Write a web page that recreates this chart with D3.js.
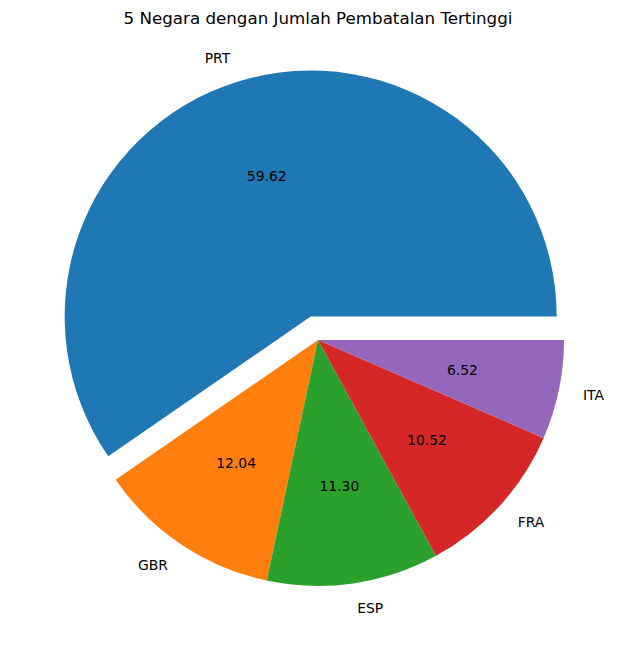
<!DOCTYPE html>
<html>
<head>
<meta charset="utf-8">
<script src="https://cdn.jsdelivr.net/npm/d3@7"></script>
<style>
  body { margin: 0; background: #fff; }
  text { font-family: "DejaVu Sans", sans-serif; }
</style>
</head>
<body>
<script>
var countries = ["PRT", "GBR", "ESP", "FRA", "ITA"],
    shares = [59.62, 12.04, 11.30, 10.52, 6.52],
    explode = [0.1, 0, 0, 0, 0],
    colors = ["#1f77b4", "#ff7f0e", "#2ca02c", "#d62728", "#9467bd"];

var w = 636, h = 658,
    cx = 318, cy = 340,
    r = 246;

var svg = d3.select("body").append("svg")
    .attr("width", w)
    .attr("height", h);

svg.append("text")
    .attr("x", w / 2)
    .attr("y", 18)
    .attr("text-anchor", "middle")
    .attr("dominant-baseline", "central")
    .style("font-size", "16.7px")
    .text("5 Negara dengan Jumlah Pembatalan Tertinggi");

// matplotlib starts at 3 o'clock and goes counterclockwise
var pie = d3.pie()
    .sort(null)
    .startAngle(Math.PI / 2)
    .endAngle(Math.PI / 2 - 2 * Math.PI);

var arcs = pie(shares);
var arc = d3.arc().innerRadius(0).outerRadius(r);

var g = svg.append("g").attr("transform", "translate(" + cx + "," + cy + ")");

var slice = g.selectAll("g.slice")
  .data(arcs)
  .enter().append("g")
    .attr("class", "slice")
    .attr("transform", function(d, i) {
      var a = (d.startAngle + d.endAngle) / 2,
          off = explode[i] * r;
      return "translate(" + (Math.sin(a) * off) + "," + (-Math.cos(a) * off) + ")";
    });

slice.append("path")
    .attr("d", arc)
    .attr("fill", function(d, i) { return colors[i]; });

function pos(d, k) {
  var a = (d.startAngle + d.endAngle) / 2;
  return [Math.sin(a) * r * k, -Math.cos(a) * r * k];
}

slice.append("text")
    .attr("x", function(d) { return pos(d, 1.1)[0]; })
    .attr("y", function(d) { return pos(d, 1.1)[1]; })
    .attr("text-anchor", function(d) { return pos(d, 1.1)[0] < 0 ? "end" : "start"; })
    .attr("dominant-baseline", "central")
    .style("font-size", "13.9px")
    .text(function(d, i) { return countries[i]; });

slice.append("text")
    .attr("x", function(d) { return pos(d, 0.6)[0]; })
    .attr("y", function(d) { return pos(d, 0.6)[1]; })
    .attr("text-anchor", "middle")
    .attr("dominant-baseline", "central")
    .style("font-size", "13.9px")
    .text(function(d) { return d.data.toFixed(2); });
</script>
</body>
</html>
